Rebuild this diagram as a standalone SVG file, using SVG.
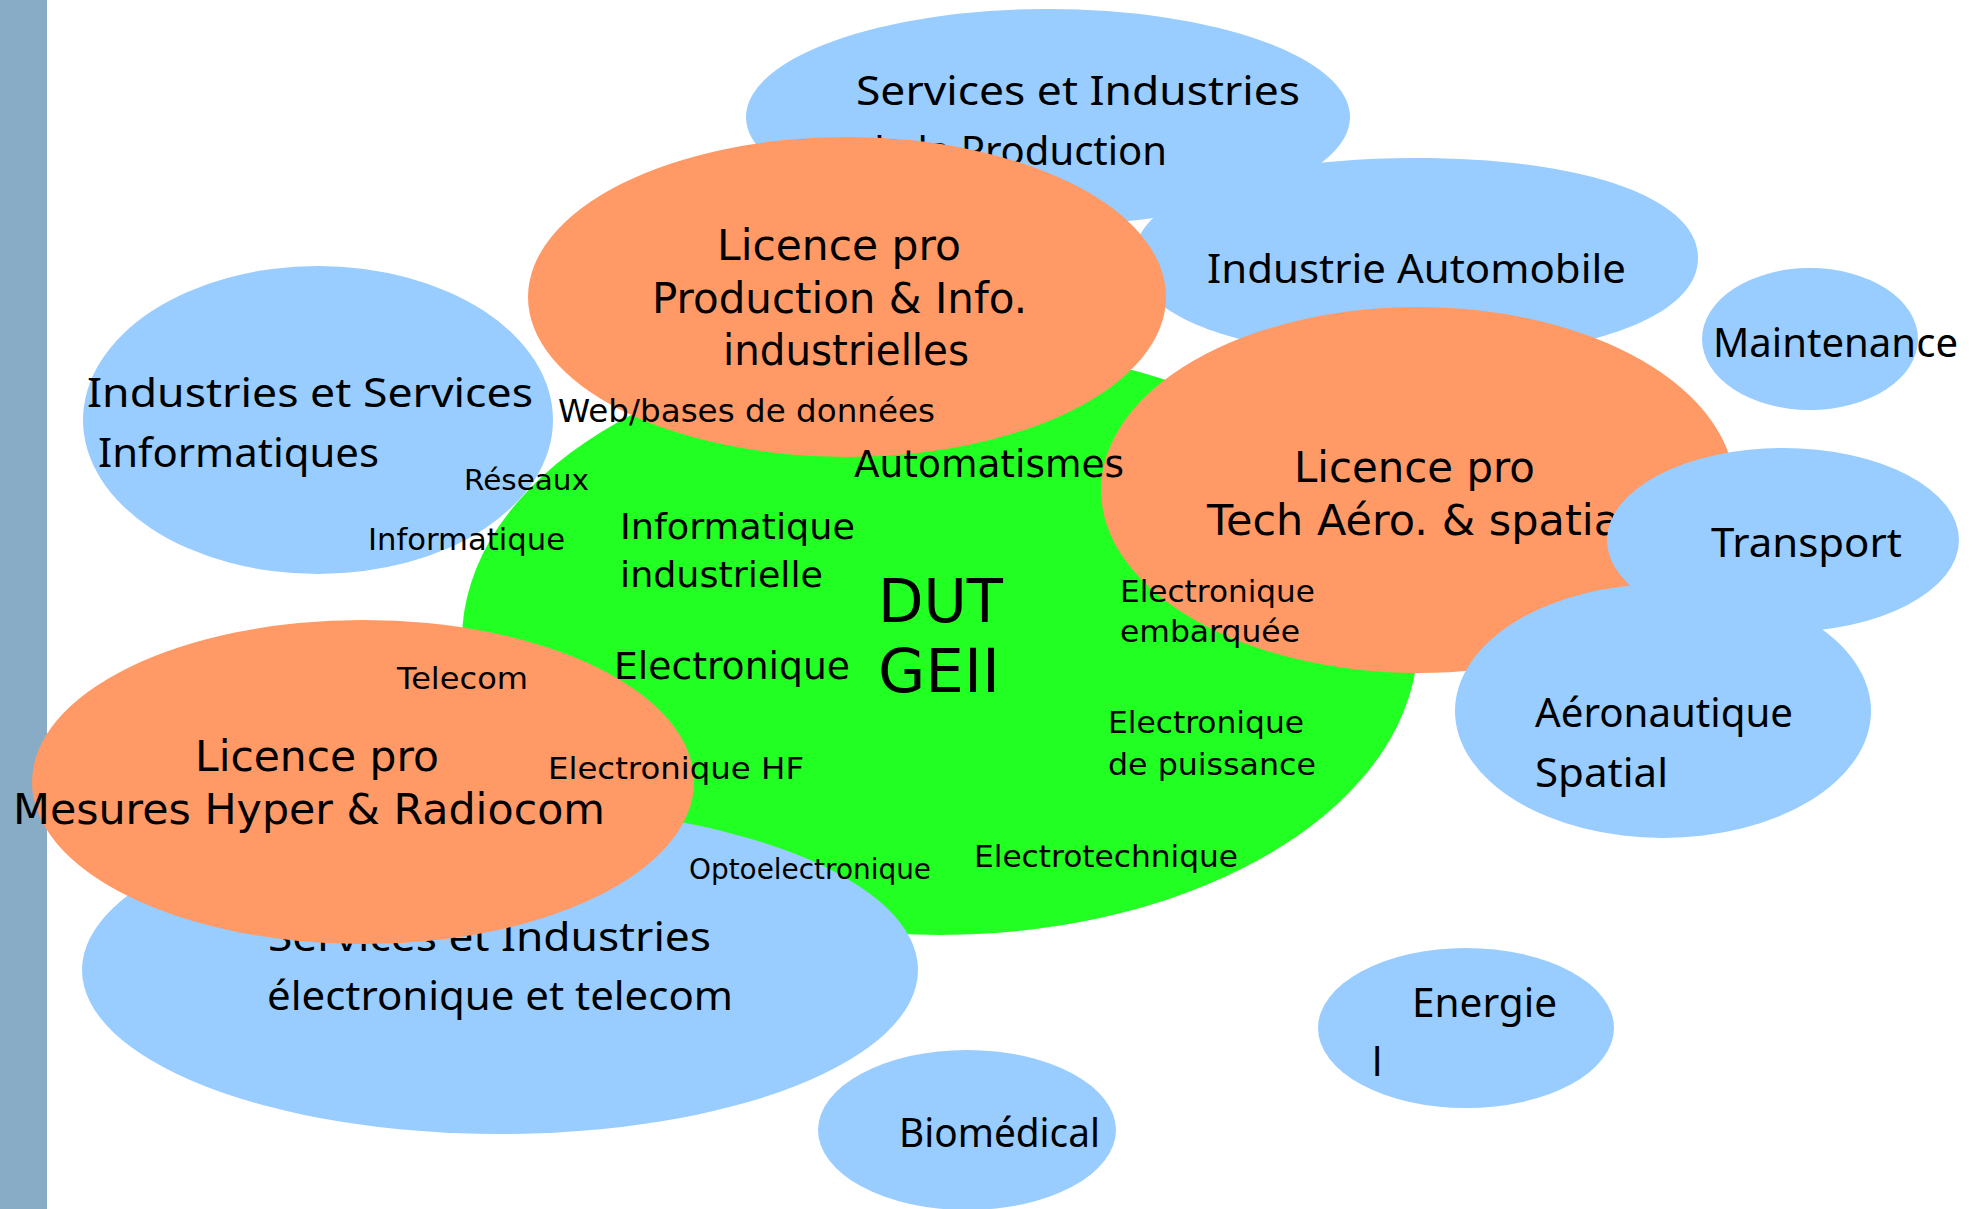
<svg xmlns="http://www.w3.org/2000/svg" width="1982" height="1209" viewBox="0 0 1982 1209">
<style>
.blue{fill:#99CCFF}
.orange{fill:#FF9966}
.green{fill:#22FF22}
.bar{fill:#88ABC6}
text{fill:#000}
.comic{font-family:"Noto Sans",sans-serif;font-size:40px}
.sans{font-family:"DejaVu Sans",sans-serif}
.lp{font-size:42px}
</style>
<rect width="1982" height="1209" fill="#FFFFFF"/>
<rect class="bar" x="0" y="0" width="47" height="1209"/>
<g id="connectors"/>

<g id="dut-geii">
<ellipse class="green" cx="940" cy="640" rx="478" ry="295"/>
<text class="sans" x="878" y="622" font-size="60" textLength="125" lengthAdjust="spacingAndGlyphs">DUT</text>
<text class="sans" x="878" y="692" font-size="60" textLength="122" lengthAdjust="spacingAndGlyphs">GEII</text>
</g>

<g id="services-production">
<ellipse class="blue" cx="1048" cy="117" rx="302" ry="108"/>
<text class="comic" x="856" y="105" textLength="444" lengthAdjust="spacingAndGlyphs">Services et Industries</text>
<text class="comic" x="860" y="165" textLength="307" lengthAdjust="spacingAndGlyphs">de la Production</text>
</g>

<g id="industrie-automobile">
<path class="blue" d="M1134,258 C1134,198 1247,158 1416,158 C1585,158 1698,198 1698,258 C1698,318 1585,358 1416,358 C1247,358 1134,318 1134,258 Z"/>
<text class="comic" x="1207" y="283" textLength="419" lengthAdjust="spacingAndGlyphs">Industrie Automobile</text>
</g>

<g id="industries-informatiques">
<ellipse class="blue" cx="318" cy="420" rx="235" ry="154"/>
<text class="comic" x="87" y="407" textLength="446" lengthAdjust="spacingAndGlyphs">Industries et Services</text>
<text class="comic" x="98" y="467" textLength="281" lengthAdjust="spacingAndGlyphs">Informatiques</text>
</g>

<g id="services-electronique-telecom">
<ellipse class="blue" cx="500" cy="970" rx="418" ry="164"/>
<text class="comic" x="268" y="951" textLength="443" lengthAdjust="spacingAndGlyphs">Services et Industries</text>
<text class="comic" x="267" y="1010" textLength="466" lengthAdjust="spacingAndGlyphs">électronique et telecom</text>
</g>

<g id="lp-production">
<ellipse class="orange" cx="847" cy="297" rx="319" ry="160"/>
<text class="sans lp" x="717" y="260" textLength="244" lengthAdjust="spacingAndGlyphs">Licence pro</text>
<text class="sans lp" x="652" y="313" textLength="375" lengthAdjust="spacingAndGlyphs">Production &amp; Info.</text>
<text class="sans lp" x="723" y="365" textLength="246" lengthAdjust="spacingAndGlyphs">industrielles</text>
</g>

<g id="lp-aero">
<ellipse class="orange" cx="1418" cy="490" rx="317" ry="183"/>
<text class="sans lp" x="1294" y="482" textLength="241" lengthAdjust="spacingAndGlyphs">Licence pro</text>
<text class="sans lp" x="1207" y="535" textLength="425" lengthAdjust="spacingAndGlyphs">Tech Aéro. &amp; spatial</text>
</g>

<g id="lp-mesures">
<ellipse class="orange" cx="363" cy="782" rx="331" ry="162"/>
<text class="sans lp" x="195" y="771" textLength="244" lengthAdjust="spacingAndGlyphs">Licence pro</text>
<text class="sans lp" x="13" y="824" textLength="592" lengthAdjust="spacingAndGlyphs">Mesures Hyper &amp; Radiocom</text>
</g>

<g id="maintenance">
<ellipse class="blue" cx="1810" cy="339" rx="108" ry="71"/>
<text class="comic" x="1713" y="357" textLength="245" lengthAdjust="spacingAndGlyphs">Maintenance</text>
</g>

<g id="aeronautique">
<ellipse class="blue" cx="1663" cy="711" rx="208" ry="127"/>
<text class="comic" x="1535" y="727" textLength="258" lengthAdjust="spacingAndGlyphs">Aéronautique</text>
<text class="comic" x="1535" y="787" textLength="133" lengthAdjust="spacingAndGlyphs">Spatial</text>
</g>

<g id="transport">
<ellipse class="blue" cx="1783" cy="540" rx="176" ry="92"/>
<text class="comic" x="1711" y="557" textLength="191" lengthAdjust="spacingAndGlyphs">Transport</text>
</g>

<g id="energie">
<ellipse class="blue" cx="1466" cy="1028" rx="148" ry="80"/>
<text class="comic" x="1412" y="1017" textLength="145" lengthAdjust="spacingAndGlyphs">Energie</text>
<text class="comic" x="1372" y="1076">l</text>
</g>

<g id="biomedical">
<ellipse class="blue" cx="967" cy="1130" rx="149" ry="80"/>
<text class="comic" x="899" y="1147" textLength="201" lengthAdjust="spacingAndGlyphs">Biomédical</text>
</g>

<g id="dut-topics" class="sans">
<text x="558" y="422" font-size="32" textLength="377" lengthAdjust="spacingAndGlyphs">Web/bases de données</text>
<text x="854" y="477" font-size="37" textLength="270" lengthAdjust="spacingAndGlyphs">Automatismes</text>
<text x="464" y="490" font-size="29" textLength="125" lengthAdjust="spacingAndGlyphs">Réseaux</text>
<text x="368" y="550" font-size="31" textLength="197" lengthAdjust="spacingAndGlyphs">Informatique</text>
<text x="620" y="539" font-size="36" textLength="235" lengthAdjust="spacingAndGlyphs">Informatique</text>
<text x="620" y="587" font-size="36" textLength="203" lengthAdjust="spacingAndGlyphs">industrielle</text>
<text x="614" y="679" font-size="37" textLength="236" lengthAdjust="spacingAndGlyphs">Electronique</text>
<text x="1120" y="602" font-size="31" textLength="195" lengthAdjust="spacingAndGlyphs">Electronique</text>
<text x="1120" y="642" font-size="31" textLength="180" lengthAdjust="spacingAndGlyphs">embarquée</text>
<text x="1108" y="733" font-size="31" textLength="196" lengthAdjust="spacingAndGlyphs">Electronique</text>
<text x="1108" y="775" font-size="31" textLength="208" lengthAdjust="spacingAndGlyphs">de puissance</text>
<text x="974" y="867" font-size="31" textLength="264" lengthAdjust="spacingAndGlyphs">Electrotechnique</text>
<text x="689" y="879" font-size="28" textLength="242" lengthAdjust="spacingAndGlyphs">Optoelectronique</text>
<text x="548" y="779" font-size="31" textLength="256" lengthAdjust="spacingAndGlyphs">Electronique HF</text>
<text x="397" y="689" font-size="30" textLength="131" lengthAdjust="spacingAndGlyphs">Telecom</text>
</g>
</svg>
